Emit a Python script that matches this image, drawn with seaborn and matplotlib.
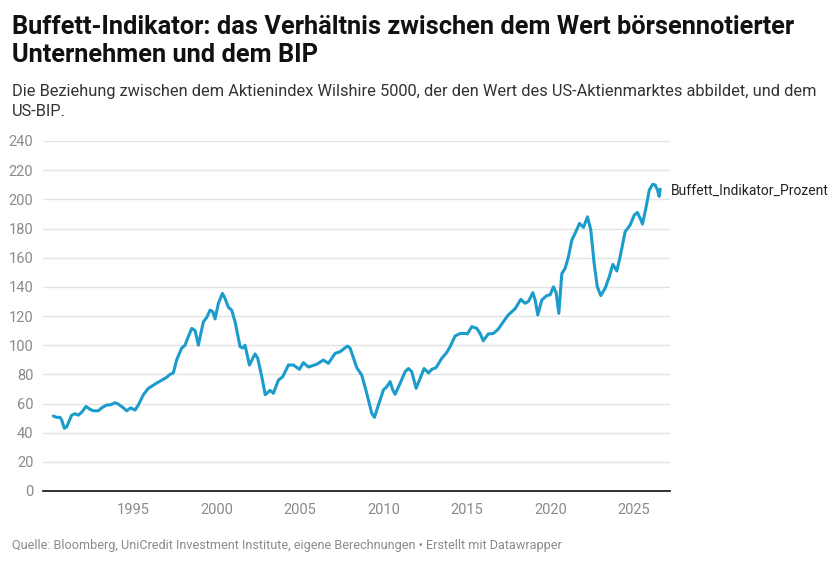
"""
Buffett-Indikator: Verhaeltnis Wilshire 5000 zu US-BIP (Datawrapper-Nachbau)
"""

import pandas as pd
import matplotlib.pyplot as plt
import seaborn as sns

# Werte (Jahr als Dezimalzahl, Indikator in %)
years = [
    1990.19, 1990.39, 1990.59, 1990.69, 1990.85, 1990.99, 1991.29, 1991.49, 1991.69, 1991.89,
    1992.15, 1992.39, 1992.59, 1992.89, 1993.09, 1993.39, 1993.59, 1993.89, 1994.09, 1994.39,
    1994.59, 1994.83, 1995.09, 1995.29, 1995.59, 1995.89, 1996.39, 1996.79, 1996.99, 1997.19,
    1997.39, 1997.59, 1997.89, 1998.09, 1998.29, 1998.49, 1998.69, 1998.89, 1999.19, 1999.39,
    1999.59, 1999.75, 1999.89, 2000.09, 2000.33, 2000.49, 2000.69, 2000.89, 2001.09, 2001.39,
    2001.55, 2001.69, 2001.95, 2002.29, 2002.45, 2002.70, 2002.90, 2003.19, 2003.39, 2003.69,
    2003.95, 2004.29, 2004.59, 2004.95, 2005.19, 2005.49, 2005.99, 2006.39, 2006.69, 2007.09,
    2007.39, 2007.83, 2007.99, 2008.39, 2008.69, 2008.99, 2009.29, 2009.45, 2009.69, 2009.99,
    2010.19, 2010.39, 2010.55, 2010.69, 2010.99, 2011.29, 2011.49, 2011.69, 2011.95, 2012.19,
    2012.43, 2012.69, 2012.89, 2013.15, 2013.49, 2013.79, 2013.99, 2014.29, 2014.59, 2014.89,
    2015.03, 2015.29, 2015.59, 2015.79, 2015.98, 2016.28, 2016.58, 2016.88, 2017.18, 2017.48,
    2017.89, 2018.23, 2018.49, 2018.69, 2018.95, 2019.09, 2019.25, 2019.49, 2019.79, 2019.99,
    2020.19, 2020.35, 2020.51, 2020.69, 2020.89, 2021.09, 2021.29, 2021.49, 2021.75, 2021.99,
    2022.23, 2022.43, 2022.63, 2022.82, 2023.03, 2023.29, 2023.54, 2023.75, 2023.99, 2024.19,
    2024.49, 2024.79, 2025.03, 2025.22, 2025.39, 2025.53, 2025.73, 2025.94, 2026.14, 2026.29,
    2026.43, 2026.53, 2026.59,
]
buffett = [
    51.4, 50.5, 50.5, 48.7, 43.0, 44.0, 52.0, 53.0, 52.0, 54.0,
    58.0, 56.0, 55.0, 55.0, 57.0, 59.0, 59.0, 60.5, 59.6, 57.0,
    55.0, 57.0, 55.5, 59.0, 66.0, 70.4, 74.0, 76.6, 78.0, 80.0,
    81.0, 90.0, 98.0, 100.0, 106.0, 111.5, 110.0, 100.0, 116.0, 119.0,
    124.0, 123.0, 118.0, 128.7, 135.5, 132.0, 126.0, 124.0, 116.0, 99.0,
    98.0, 100.0, 86.4, 94.0, 91.0, 78.0, 66.0, 69.0, 67.0, 76.0,
    78.4, 86.4, 86.4, 83.4, 88.0, 85.0, 86.9, 89.8, 87.5, 94.4,
    95.5, 99.4, 98.0, 84.6, 79.5, 67.0, 53.3, 50.5, 59.0, 69.3,
    71.5, 75.0, 69.3, 66.3, 73.8, 81.8, 84.0, 81.8, 70.4, 77.3,
    84.0, 81.0, 83.4, 84.6, 91.0, 95.0, 99.0, 106.3, 108.0, 108.0,
    107.7, 112.7, 111.5, 108.0, 103.0, 107.7, 108.0, 111.0, 116.0, 120.7,
    125.0, 131.4, 128.7, 130.0, 136.0, 131.0, 120.7, 131.0, 134.0, 134.5,
    140.0, 136.0, 121.8, 149.0, 152.7, 160.7, 172.0, 176.7, 183.5, 180.8,
    188.0, 179.0, 156.0, 140.0, 134.0, 139.0, 147.0, 155.4, 150.9, 160.7,
    177.8, 182.4, 189.0, 191.0, 187.0, 183.0, 193.8, 206.4, 210.3, 209.8,
    206.4, 202.0, 207.0,
]
x_ticks = [1995, 2000, 2005, 2010, 2015, 2020, 2025]
y_ticks = [0, 20, 40, 60, 80, 100, 120, 140, 160, 180, 200, 220, 240]

title = ("Buffett-Indikator: das Verhältnis zwischen dem Wert börsennotierter\n"
         "Unternehmen und dem BIP")
subtitle = ("Die Beziehung zwischen dem Aktienindex Wilshire 5000, der den Wert des "
            "US-Aktienmarktes abbildet, und dem\nUS-BIP.")
source = ("Quelle: Bloomberg, UniCredit Investment Institute, eigene Berechnungen "
          "• Erstellt mit Datawrapper")
series_name = "Buffett_Indikator_Prozent"

df = pd.DataFrame({"jahr": years, "wert": buffett})

sns.set_style("white")
plt.rcParams["font.family"] = ["Roboto", "DejaVu Sans"]

fig = plt.figure(figsize=(8.4, 5.65), dpi=100)
ax = fig.add_axes([43 / 840, 1 - 491 / 565, 627 / 840, 350 / 565])

sns.lineplot(data=df, x="jahr", y="wert", ax=ax, color="#1b9ccb",
             linewidth=2.2, sort=False)

ax.set_xlim(1989.57, 2027.18)
ax.set_ylim(0, 240)
ax.set_xticks(x_ticks)
ax.set_yticks(y_ticks)
ax.set_xlabel("")
ax.set_ylabel("")
ax.grid(axis="y", color="#e3e3e3", linewidth=1.0)
ax.grid(axis="x", visible=False)
for s in ["top", "right", "left"]:
    ax.spines[s].set_visible(False)
ax.spines["bottom"].set_color("#222222")
ax.spines["bottom"].set_linewidth(1.3)
ax.spines["bottom"].set_zorder(3)
ax.tick_params(axis="both", length=0, labelsize=10.5, labelcolor="#8a8a8a")
ax.tick_params(axis="y", pad=7)
ax.tick_params(axis="x", pad=9)

# Serienbeschriftung am Linienende
ax.annotate(series_name, xy=(years[-1], buffett[-1] - 1), xytext=(8, 0),
            textcoords="offset points", va="center", ha="left",
            fontsize=10, color="#222222", annotation_clip=False)

fig.text(12 / 840, 1 - 15 / 565, title, ha="left", va="top",
         fontsize=18.3, fontweight="bold", color="#111111", linespacing=1.22)
fig.text(12 / 840, 1 - 84 / 565, subtitle, ha="left", va="top",
         fontsize=11.8, color="#333333", linespacing=1.45)
fig.text(12 / 840, 1 - 546 / 565, source, ha="left", va="center",
         fontsize=9.1, color="#8a8a8a")

fig.savefig("out.png", dpi=100)
